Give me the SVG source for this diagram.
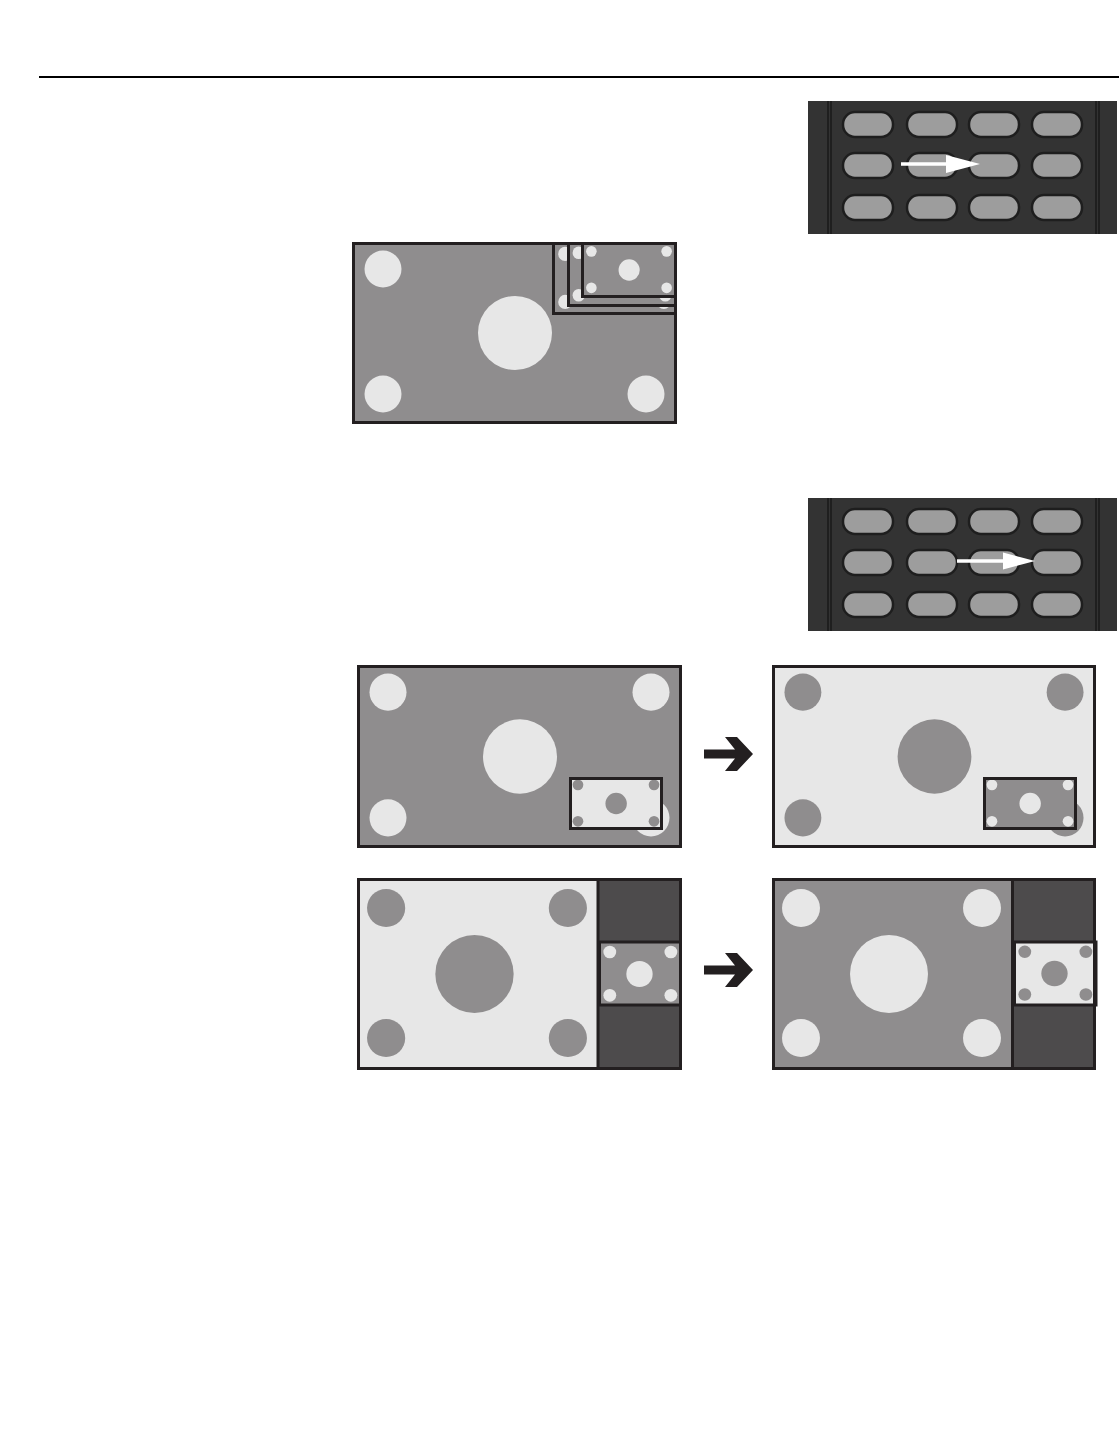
<svg xmlns="http://www.w3.org/2000/svg" xmlns:xlink="http://www.w3.org/1999/xlink" width="1119" height="1452" viewBox="0 0 1119 1452">
<style>
.g{fill:#8f8d8e}.l{fill:#e7e7e7}.dk{fill:#4d4b4c}
.frame{fill:none;stroke:#231f20;stroke-width:3}
.btn{fill:#9d9d9d;stroke:#1e1e1e;stroke-width:2.5}
.rl{stroke:#1a1a1a;stroke-width:1.5}
.wa{stroke:#fff;stroke-width:3.5}
.arr{fill:#231f20}
</style>
<defs>
<symbol id="s169a" viewBox="0 0 325 182" preserveAspectRatio="none">
<rect width="325" height="182" class="g"/>
<g class="l"><circle cx="31" cy="27" r="18.5"/><circle cx="294" cy="27" r="18.5"/><circle cx="31" cy="152" r="18.5"/><circle cx="294" cy="152" r="18.5"/><circle cx="163" cy="91" r="37"/></g>
</symbol>
<symbol id="s169b" viewBox="0 0 325 182" preserveAspectRatio="none">
<rect width="325" height="182" class="l"/>
<g class="g"><circle cx="31" cy="27" r="18.5"/><circle cx="294" cy="27" r="18.5"/><circle cx="31" cy="152" r="18.5"/><circle cx="294" cy="152" r="18.5"/><circle cx="163" cy="91" r="37"/></g>
</symbol>
<symbol id="s43a" viewBox="0 0 240 192" preserveAspectRatio="none">
<rect width="240" height="192" class="g"/>
<g class="l"><circle cx="29" cy="30" r="19"/><circle cx="210" cy="30" r="19"/><circle cx="29" cy="160" r="19"/><circle cx="210" cy="160" r="19"/><circle cx="117" cy="96" r="39"/></g>
</symbol>
<symbol id="s43b" viewBox="0 0 240 192" preserveAspectRatio="none">
<rect width="240" height="192" class="l"/>
<g class="g"><circle cx="29" cy="30" r="19"/><circle cx="210" cy="30" r="19"/><circle cx="29" cy="160" r="19"/><circle cx="210" cy="160" r="19"/><circle cx="117" cy="96" r="39"/></g>
</symbol>
<g id="pad">
<rect width="309" height="133" fill="#333333"/>
<line class="rl" x1="20" y1="0" x2="20" y2="133"/><line class="rl" x1="23" y1="0" x2="23" y2="133"/>
<line class="rl" x1="288" y1="0" x2="288" y2="133"/><line class="rl" x1="291" y1="0" x2="291" y2="133"/>
<rect class="btn" x="35" y="11" width="50" height="25" rx="12"/><rect class="btn" x="99" y="11" width="50" height="25" rx="12"/><rect class="btn" x="161" y="11" width="50" height="25" rx="12"/><rect class="btn" x="224" y="11" width="50" height="25" rx="12"/>
<rect class="btn" x="35" y="52" width="50" height="25" rx="12"/><rect class="btn" x="99" y="52" width="50" height="25" rx="12"/><rect class="btn" x="161" y="52" width="50" height="25" rx="12"/><rect class="btn" x="224" y="52" width="50" height="25" rx="12"/>
<rect class="btn" x="35" y="94" width="50" height="25" rx="12"/><rect class="btn" x="99" y="94" width="50" height="25" rx="12"/><rect class="btn" x="161" y="94" width="50" height="25" rx="12"/><rect class="btn" x="224" y="94" width="50" height="25" rx="12"/>
</g>
<polygon id="bigarrow" points="704,749.5 735,749.5 725,737 737,737 753,754 737,771 725,771 735,758.5 704,758.5"/>
</defs>
<rect width="1119" height="1452" fill="#fff"/>
<line x1="39" y1="77" x2="1119" y2="77" stroke="#000" stroke-width="2"/>

<g id="remote1">
<use href="#pad" x="808" y="101"/>
<line class="wa" x1="901" y1="164" x2="948" y2="164"/>
<polygon fill="#fff" points="946,155 980,164 946,173"/>
</g>

<g id="screen-pip-cycle">
<use href="#s169a" x="352" y="242" width="325" height="182"/>
<use href="#s169a" x="553.5" y="243.5" width="122" height="70"/>
<rect class="frame" x="553.5" y="243.5" width="122" height="70"/>
<use href="#s169a" x="568.5" y="243.5" width="107" height="62"/>
<rect class="frame" x="568.5" y="243.5" width="107" height="62"/>
<use href="#s169a" x="582.5" y="243.5" width="93" height="53"/>
<rect class="frame" x="582.5" y="243.5" width="93" height="53"/>
<rect class="frame" x="353.5" y="243.5" width="322" height="179"/>
</g>

<g id="remote2">
<use href="#pad" x="808" y="498"/>
<line class="wa" x1="957" y1="561" x2="1004" y2="561"/>
<polygon fill="#fff" points="1003,552.5 1035,561 1003,569.5"/>
</g>

<g id="screen-pip-before">
<use href="#s169a" x="357" y="665" width="325" height="183"/>
<use href="#s169b" x="569" y="777" width="94" height="53"/>
<rect class="frame" x="570.5" y="778.5" width="91" height="50"/>
<rect class="frame" x="358.5" y="666.5" width="322" height="180"/>
</g>

<g id="screen-pip-after">
<use href="#s169b" x="772" y="665" width="324" height="183"/>
<use href="#s169a" x="983" y="777" width="94" height="53"/>
<rect class="frame" x="984.5" y="778.5" width="91" height="50"/>
<rect class="frame" x="773.5" y="666.5" width="321" height="180"/>
</g>

<g id="screen-pop-before">
<use href="#s43b" x="357" y="878" width="241" height="192"/>
<rect class="dk" x="598" y="878" width="84" height="192"/>
<use href="#s43a" x="600" y="942" width="81" height="64"/>
<rect class="frame" x="599.5" y="942" width="81" height="63"/>
<line x1="598" y1="878" x2="598" y2="1070" stroke="#231f20" stroke-width="3"/>
<rect class="frame" x="358.5" y="879.5" width="322" height="189"/>
</g>

<g id="screen-pop-after">
<use href="#s43a" x="772" y="878" width="240" height="192"/>
<rect class="dk" x="1012" y="878" width="84" height="192"/>
<use href="#s43b" x="1015" y="942" width="81" height="63"/>
<rect class="frame" x="1014.5" y="942" width="81.5" height="63"/>
<line x1="1012.5" y1="878" x2="1012.5" y2="1070" stroke="#231f20" stroke-width="3"/>
<rect class="frame" x="773.5" y="879.5" width="321" height="189"/>
</g>

<g id="connectors" class="arr">
<use href="#bigarrow"/>
<use href="#bigarrow" y="216"/>
</g>
</svg>
